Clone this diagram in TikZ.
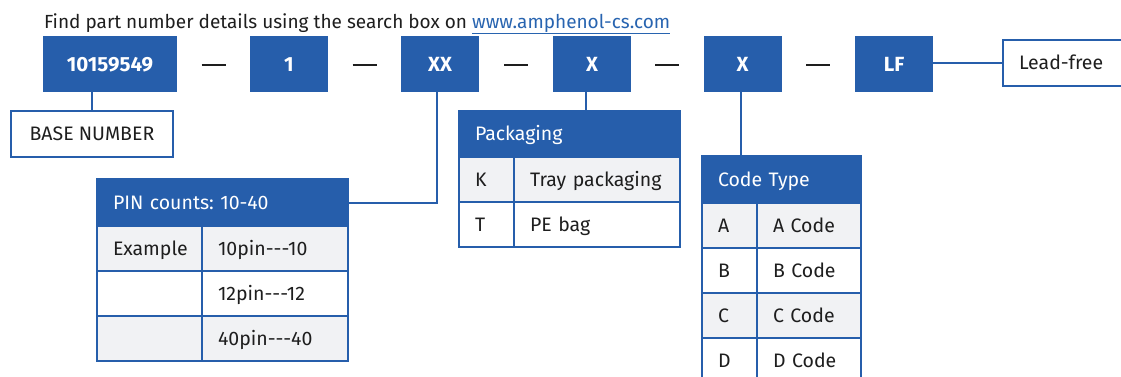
\documentclass[tikz,border=0pt]{standalone}
\usepackage{fontspec}
\setmainfont{Fira Sans}
\usetikzlibrary{positioning,calc}

\definecolor{ampblue}{RGB}{38,94,171}
\definecolor{rowgray}{RGB}{241,242,244}
\definecolor{inkgray}{RGB}{30,30,30}
\definecolor{urlblue}{RGB}{40,100,176}

\begin{document}
\frenchspacing
\begin{tikzpicture}[x=1pt,y=-1pt,
    every node/.style={font=\fontsize{19.5}{22}\selectfont, outer sep=0pt},
    partbox/.style={fill=ampblue, text=white, font=\fontsize{20.5}{22}\selectfont\bfseries,
      minimum width=78pt, minimum height=56pt, inner sep=0pt, text height=14pt, text depth=0pt},
    cell/.style={draw=ampblue, line width=1.5pt, text=inkgray, anchor=north west,
      minimum height=45pt, inner xsep=16pt, inner ysep=0pt, text height=13.5pt, text depth=0pt, align=left},
    headcell/.style={cell, fill=ampblue, text=white},
    labelbox/.style={draw=ampblue, line width=2pt, fill=white, text=inkgray, anchor=north west,
      minimum height=46pt, inner xsep=16pt, inner ysep=0pt, text height=13.5pt, text depth=0pt},
    link/.style={draw=ampblue, line width=2pt},
    sepdash/.style={draw=inkgray, line width=2.5pt}]
  \useasboundingbox (0,0) rectangle (1121,376);

  % Search hint
  \node[anchor=base west, text=inkgray, inner sep=0pt, font=\fontsize{19}{22}\selectfont] (hint) at (44,28)
    {Find part number details using the search box on \textcolor{urlblue}{\underline{www.amphenol-cs.com}}};

  % Part number boxes
  \node[partbox, minimum width=134pt] (b0) at (110,64) {10159549};
  \node[partbox] (b1) at (289,64) {1};
  \node[partbox] (b2) at (440,64) {XX};
  \node[partbox] (b3) at (592,64) {X};
  \node[partbox] (b4) at (742.5,64) {X};
  \node[partbox] (b5) at (894,64) {LF};
  \foreach \a/\b in {b0/b1,b1/b2,b2/b3,b3/b4,b4/b5}
    \draw[sepdash] ($(\a.east)!0.5!(\b.west)$) +(-12,1) -- +(12,1);

  % Base number and lead-free labels
  \node[labelbox, minimum width=162pt] (base) at (11,111) {BASE NUMBER};
  \node[labelbox, minimum width=135pt, text width=103pt, align=left] (lf) at (1003,40) {Lead-free};

  % PIN counts table
  \node[headcell, minimum height=47pt, text width=219pt] (pinhead) at (97,179) {PIN counts: 10-40};
  \node[cell, fill=rowgray, text width=73pt] (pin1a) at (97,226) {Example};
  \node[cell, fill=rowgray, text width=114pt] (pin1b) at (202,226) {10pin{-}{-}{-}10};
  \node[cell, fill=white, text width=73pt] (pin2a) at (97,271) {};
  \node[cell, fill=white, text width=114pt] (pin2b) at (202,271) {12pin{-}{-}{-}12};
  \node[cell, fill=rowgray, text width=73pt] (pin3a) at (97,316) {};
  \node[cell, fill=rowgray, text width=114pt] (pin3b) at (202,316) {40pin{-}{-}{-}40};

  % Packaging table
  \node[headcell, minimum height=46pt, text width=189pt] (pkghead) at (459,111) {Packaging};
  \node[cell, fill=rowgray, text width=23pt] (pkg1a) at (459,157) {K};
  \node[cell, fill=rowgray, text width=134pt] (pkg1b) at (514,157) {Tray packaging};
  \node[cell, fill=white, text width=23pt] (pkg2a) at (459,202) {T};
  \node[cell, fill=white, text width=134pt] (pkg2b) at (514,202) {PE bag};

  % Code type table
  \node[headcell, minimum height=47pt, text width=127pt] (codehead) at (702,156) {Code Type};
  \node[cell, fill=rowgray, text width=23pt] (code1a) at (702,203) {A};
  \node[cell, fill=rowgray, text width=72pt] (code1b) at (757,203) {A Code};
  \node[cell, fill=white, text width=23pt] (code2a) at (702,248) {B};
  \node[cell, fill=white, text width=72pt] (code2b) at (757,248) {B Code};
  \node[cell, fill=rowgray, text width=23pt] (code3a) at (702,293) {C};
  \node[cell, fill=rowgray, text width=72pt] (code3b) at (757,293) {C Code};
  \node[cell, fill=white, text width=23pt] (code4a) at (702,338) {D};
  \node[cell, fill=white, text width=72pt] (code4b) at (757,338) {D Code};

  % Connectors
  \draw[link] ([xshift=-18pt]b0.south) -- ([xshift=-18pt]b0.south |- base.north);
  \draw[link] ([xshift=-3pt]b2.south) |- (pinhead.east);
  \draw[link] ([xshift=-6pt]b3.south) -- ([xshift=-6pt]b3.south |- pkghead.north);
  \draw[link] ([xshift=-1.5pt]b4.south) -- ([xshift=-1.5pt]b4.south |- codehead.north);
  \draw[link] (lf.west -| b5.east) -- (lf.west);
\end{tikzpicture}
\end{document}
